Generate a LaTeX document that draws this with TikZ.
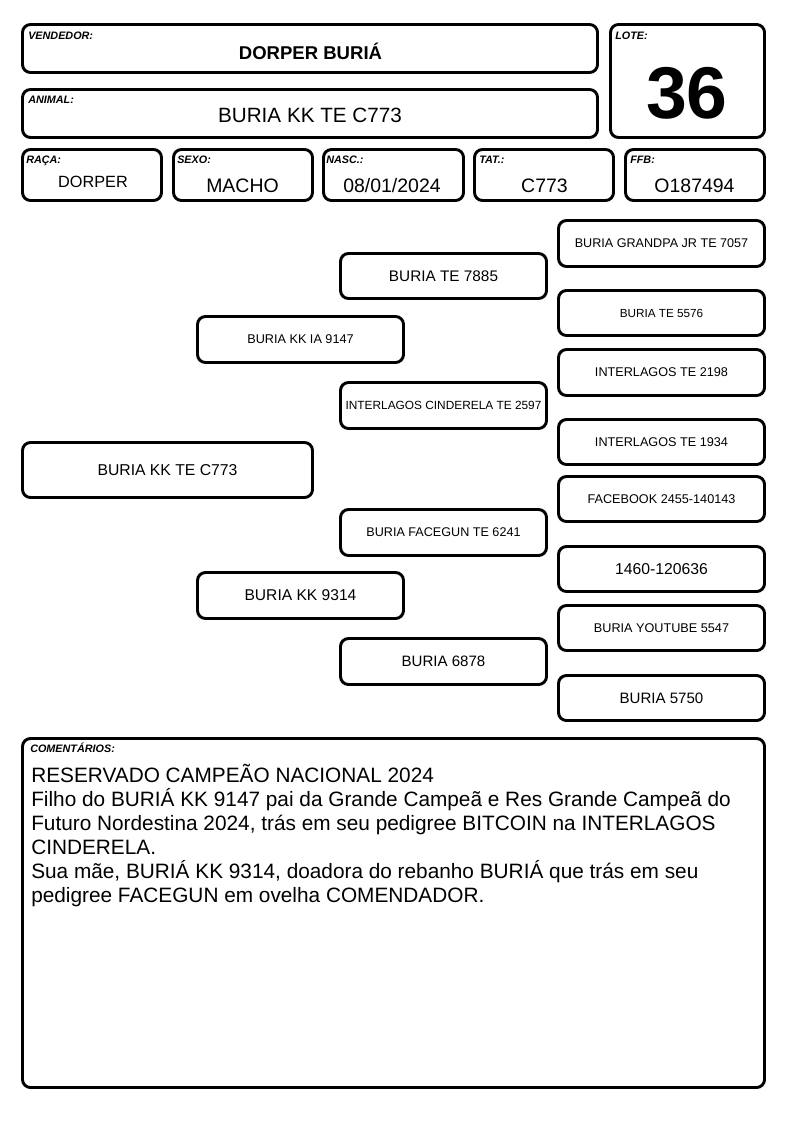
\documentclass[tikz,border=0pt]{standalone}
\usepackage{fontspec}
\setmainfont{Liberation Sans}
\newcommand\fs[1]{\fontsize{#1}{#1}\selectfont}
\tikzset{
  x=0.75pt, y=-0.75pt,
  box/.style={draw, line width=2.2pt, rounded corners=6pt, inner sep=0pt, align=center},
  lbl/.style={anchor=base west, inner sep=0pt, font=\fs{8.1}\bfseries\itshape},
  val/.style={anchor=base, inner sep=0pt},
  cmt/.style={anchor=base west, inner sep=0pt, font=\fs{15.6}},
}
\newcommand\bx[7]{\node[box, minimum width={(#4-#2-3)*0.75pt}, minimum height={(#5-#3-3)*0.75pt}, #6] (#1) at ({(#2+#4)/2},{(#3+#5)/2}) {#7};}
\begin{document}
\begin{tikzpicture}
\useasboundingbox (0,0) rectangle (794,1123);
% header boxes
\bx{vend}{21}{23}{599}{74}{}{}
\bx{anim}{21}{88}{599}{139}{}{}
\bx{lote}{609}{23}{766}{139}{}{}
\bx{raca}{21}{148}{163}{202}{}{}
\bx{sexo}{172}{148}{314}{202}{}{}
\bx{nasc}{322}{148}{465}{202}{}{}
\bx{tat}{473}{148}{615}{202}{}{}
\bx{ffb}{624}{148}{766}{202}{}{}
% labels
\node[lbl] (lvend) at (28,39.5) {VENDEDOR:};
\node[lbl] (llote) at (615,39.5) {LOTE:};
\node[lbl] (lanim) at (28,103.5) {ANIMAL:};
\node[lbl] (lraca) at (26,163.5) {RAÇA:};
\node[lbl] (lsexo) at (177,164) {SEXO:};
\node[lbl] (lnasc) at (326,164) {NASC.:};
\node[lbl] (ltat) at (479,164) {TAT.:};
\node[lbl] (lffb) at (630,164) {FFB:};
% values
\node[val, font=\fs{13.9}\bfseries] (vvend) at (310.5,60) {DORPER BURIÁ};
\node[val, font=\fs{15.5}] (vanim) at (310,123) {BURIA KK TE C773};
\node[val, font=\fs{55}\bfseries] (vlote) at (687,118.3) {36};
\node[val, font=\fs{12.2}] (vraca) at (93,188) {DORPER};
\node[val, font=\fs{14.6}] (vsexo) at (242.5,193) {MACHO};
\node[val, font=\fs{14.6}] (vnasc) at (392,193) {08/01/2024};
\node[val, font=\fs{14.6}] (vtat) at (544.5,193) {C773};
\node[val, font=\fs{14.6}] (vffb) at (694.5,193) {O187494};
% pedigree
\bx{p0}{21}{441}{314}{499}{font=\fs{11.8}}{BURIA KK TE C773}
\bx{s}{196}{315}{405}{364}{font=\fs{9.5}}{BURIA KK IA 9147}
\bx{d}{196}{571}{405}{620}{font=\fs{11.7}}{BURIA KK 9314}
\bx{ss}{339}{252}{548}{300}{font=\fs{11.5}}{BURIA TE 7885}
\bx{sd}{339}{381}{548}{430}{font=\fs{8.9}}{INTERLAGOS CINDERELA TE 2597}
\bx{ds}{339}{508}{548}{557}{font=\fs{9.45}}{BURIA FACEGUN TE 6241}
\bx{dd}{339}{637}{548}{686}{font=\fs{11.3}}{BURIA 6878}
\bx{sss}{557}{219}{766}{268}{font=\fs{9.45}}{BURIA GRANDPA JR TE 7057}
\bx{ssd}{557}{289}{766}{337}{font=\fs{8.8}}{BURIA TE 5576}
\bx{sds}{557}{348}{766}{397}{font=\fs{9.5}}{INTERLAGOS TE 2198}
\bx{sdd}{557}{418}{766}{466}{font=\fs{9.5}}{INTERLAGOS TE 1934}
\bx{dss}{557}{475}{766}{523}{font=\fs{9.5}}{FACEBOOK 2455-140143}
\bx{dsd}{557}{545}{766}{593}{font=\fs{11.8}}{1460-120636}
\bx{dds}{557}{604}{766}{652}{font=\fs{9.5}}{BURIA YOUTUBE 5547}
\bx{ddd}{557}{674}{766}{722}{font=\fs{11.3}}{BURIA 5750}
% comments
\bx{com}{21}{737}{766}{1089}{}{}
\node[lbl] (lcom) at (30,752) {COMENTÁRIOS:};
\node[cmt] (c1) at (31,782) {RESERVADO CAMPEÃO NACIONAL 2024};
\node[cmt] (c2) at (31,806) {Filho do BURIÁ KK 9147 pai da Grande Campeã e Res Grande Campeã do};
\node[cmt] (c3) at (31,830) {Futuro Nordestina 2024, trás em seu pedigree BITCOIN na INTERLAGOS};
\node[cmt] (c4) at (31,854) {CINDERELA.};
\node[cmt] (c5) at (31,878) {Sua mãe, BURIÁ KK 9314, doadora do rebanho BURIÁ que trás em seu};
\node[cmt] (c6) at (31,902) {pedigree FACEGUN em ovelha COMENDADOR.};
\end{tikzpicture}
\end{document}
